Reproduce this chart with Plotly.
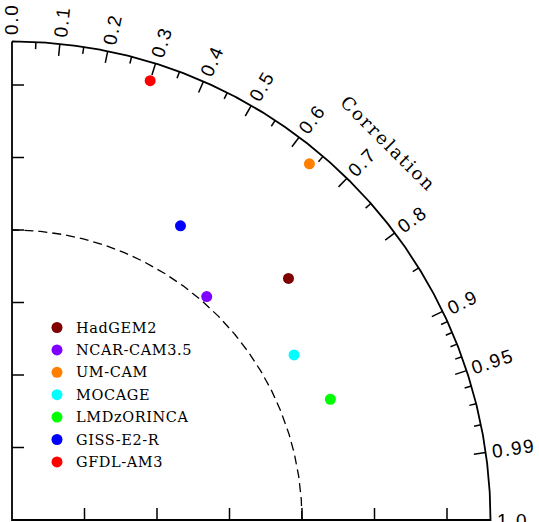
import numpy as np
import plotly.graph_objects as go

# ---------------- data ----------------
models = ["HadGEM2", "NCAR-CAM3.5", "UM-CAM", "MOCAGE", "LMDzORINCA", "GISS-E2-R", "GFDL-AM3"]
std_norm = [1.266, 1.022, 1.600, 1.127, 1.174, 1.169, 1.588]
corr = [0.753, 0.657, 0.641, 0.863, 0.935, 0.497, 0.300]
colors = ["#800000", "#8000ff", "#ff8000", "#00ffff", "#00ff00", "#0000ff", "#ff0000"]

corr_major = [0.0, 0.1, 0.2, 0.3, 0.4, 0.5, 0.6, 0.7, 0.8, 0.9, 0.95, 0.99, 1.0]
corr_major_labels = ["0.0", "0.1", "0.2", "0.3", "0.4", "0.5", "0.6", "0.7", "0.8",
                     "0.9", "0.95", "0.99", "1.0"]
corr_minor = [0.05, 0.15, 0.25, 0.35, 0.45, 0.55, 0.65, 0.75, 0.85,
              0.91, 0.92, 0.93, 0.94, 0.96, 0.97, 0.98]
std_ticks = [0.25, 0.5, 0.75, 1.0, 1.25, 1.5]
std_max = 1.65
ref_std = 1.0
corr_title = "Correlation"

# ---------------- layout constants ----------------
W, H = 539, 522
PX = 290.0          # pixels per unit of normalized std
X0, Y0 = 12, 520    # pixel position of the origin
MAJ, MIN = 12 / PX, 7 / PX
LBL_FS, LBL_LS, LBL_OFF = 19, 1.6, 6
CHAR_W = {"0": .556, "1": .556, "2": .556, "3": .556, "4": .556, "5": .556,
          "6": .556, "7": .556, "8": .556, "9": .556, ".": .278}

xr = [-X0 / PX, (W - X0) / PX]
yr = [-(H - Y0) / PX, Y0 / PX]

fig = go.Figure()

# frame: left axis, bottom axis, outer arc
th = np.linspace(0, np.pi / 2, 400)
fx = np.concatenate([[0, 0, std_max], std_max * np.cos(th)])
fy = np.concatenate([[std_max, 0, 0], std_max * np.sin(th)])
fig.add_trace(go.Scatter(x=fx, y=fy, mode="lines", line=dict(color="black", width=1.8),
                         hoverinfo="skip", showlegend=False))

# reference dashed arc
fig.add_trace(go.Scatter(x=ref_std * np.cos(th), y=ref_std * np.sin(th), mode="lines",
                         line=dict(color="black", width=1.3, dash="9px,5px"),
                         hoverinfo="skip", showlegend=False))

# ticks
tx, ty = [], []
for s in std_ticks:
    tx += [s, s, None, 0, MAJ, None]
    ty += [0, MAJ, None, s, s, None]
for c in corr_major[1:-1]:
    a = np.arccos(c)
    tx += [std_max * np.cos(a), (std_max - MAJ) * np.cos(a), None]
    ty += [std_max * np.sin(a), (std_max - MAJ) * np.sin(a), None]
for c in corr_minor:
    a = np.arccos(c)
    tx += [std_max * np.cos(a), (std_max - MIN) * np.cos(a), None]
    ty += [std_max * np.sin(a), (std_max - MIN) * np.sin(a), None]
fig.add_trace(go.Scatter(x=tx, y=ty, mode="lines", line=dict(color="black", width=1.5),
                         hoverinfo="skip", showlegend=False))

annotations = []
# correlation labels (radial)
for c, lab in zip(corr_major, corr_major_labels):
    a = np.arccos(c)
    wbox = sum(CHAR_W[ch] for ch in lab) * LBL_FS + LBL_LS * len(lab)
    rc = std_max + (LBL_OFF + wbox / 2) / PX
    annotations.append(dict(
        x=rc * np.cos(a), y=rc * np.sin(a), xref="x", yref="y",
        text=f'<span style="letter-spacing:{LBL_LS}px">{lab}</span>',
        showarrow=False, textangle=-np.degrees(a), xanchor="center", yanchor="middle",
        font=dict(family="Liberation Sans, Arial", size=LBL_FS, color="black")))

# correlation title
rt = 532 / PX
annotations.append(dict(
    x=rt * np.cos(np.pi / 4), y=rt * np.sin(np.pi / 4), xref="x", yref="y",
    text=f'<span style="letter-spacing:2px">{corr_title}</span>',
    showarrow=False, textangle=45, xanchor="center", yanchor="middle",
    font=dict(family="DejaVu Serif", size=18, color="black")))

# data points
px_x = [s * c for s, c in zip(std_norm, corr)]
px_y = [s * np.sqrt(1 - c * c) for s, c in zip(std_norm, corr)]

# manual legend
LEG_MX, LEG_TX, LEG_Y, LEG_DY = 57, 74, 327.5, 22.4
lx = [(LEG_MX - X0) / PX] * len(models)
ly = [(Y0 - (LEG_Y + i * LEG_DY)) / PX for i in range(len(models))]
fig.add_trace(go.Scatter(x=lx, y=ly, mode="markers",
                         marker=dict(color=colors, size=11, line=dict(width=0)),
                         hoverinfo="skip", showlegend=False))
for i, m in enumerate(models):
    annotations.append(dict(
        x=(LEG_TX - X0) / PX, y=ly[i], xref="x", yref="y",
        text=f'<span style="letter-spacing:0.6px">{m}</span>',
        showarrow=False, xanchor="left", yanchor="middle",
        font=dict(family="DejaVu Serif", size=14.5, color="black")))

fig.add_trace(go.Scatter(x=px_x, y=px_y, mode="markers", text=models,
                         marker=dict(color=colors, size=11, line=dict(width=0)),
                         hovertemplate="%{text}<extra></extra>", showlegend=False))

fig.update_layout(
    width=W, height=H, margin=dict(l=0, r=0, t=0, b=0),
    paper_bgcolor="white", plot_bgcolor="white",
    xaxis=dict(range=xr, visible=False, fixedrange=True),
    yaxis=dict(range=yr, visible=False, fixedrange=True),
    annotations=annotations, showlegend=False)

fig.write_html("out.html", config={"displayModeBar": False})
